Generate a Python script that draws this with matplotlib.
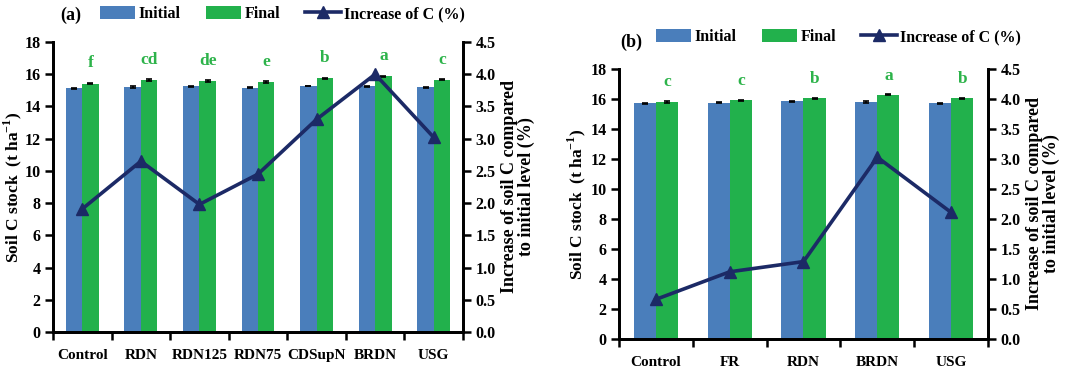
import numpy as np
import matplotlib.pyplot as plt
from matplotlib.ticker import FormatStrFormatter

plt.rcParams['font.family'] = ['Liberation Serif', 'DejaVu Serif']
plt.rcParams['font.weight'] = 'bold'
plt.rcParams['mathtext.fontset'] = 'custom'
plt.rcParams['mathtext.rm'] = 'Liberation Serif'
plt.rcParams['mathtext.bf'] = 'Liberation Serif:bold'

# Panel (a) data
cats_a = ['Control', 'RDN', 'RDN125', 'RDN75', 'CDSupN', 'BRDN', 'USG']
initial_a = [15.12, 15.22, 15.25, 15.17, 15.27, 15.25, 15.2]
final_a = [15.42, 15.65, 15.57, 15.52, 15.75, 15.86, 15.66]
init_err_a = [0.03, 0.05, 0.04, 0.03, 0.03, 0.04, 0.03]
final_err_a = [0.05, 0.04, 0.06, 0.05, 0.04, 0.04, 0.04]
increase_a = [1.91, 2.65, 1.98, 2.45, 3.30, 4.00, 3.02]
letters_a = ['f', 'cd', 'de', 'e', 'b', 'a', 'c']

# Panel (b) data
cats_b = ['Control', 'FR', 'RDN', 'BRDN', 'USG']
initial_b = [15.72, 15.75, 15.86, 15.8, 15.72]
final_b = [15.83, 15.92, 16.04, 16.28, 16.04]
init_err_b = [0.04, 0.04, 0.04, 0.04, 0.04]
final_err_b = [0.07, 0.04, 0.04, 0.04, 0.04]
increase_b = [0.66, 1.12, 1.29, 3.03, 2.11]
letters_b = ['c', 'c', 'b', 'a', 'b']

c_init = '#4A7EBB'
c_final = '#22B14C'
c_line = '#1C2A66'
c_letter = '#2DB34A'

W, H = 1071, 372
fig = plt.figure(figsize=(W / 100, H / 100), dpi=100)


def panel(rect, cats, initial, final, ierr, ferr, increase, letters, bw, tag, tag_xy, leg_xy, lab_x):
    l, t, r, b = rect
    ax = fig.add_axes([l / W, (H - b) / H, (r - l) / W, (b - t) / H])
    x = np.arange(len(cats))
    ax.bar(x - bw / 2, initial, bw, color=c_init, yerr=ierr, capsize=2.5,
           error_kw=dict(elinewidth=1.2, capthick=1.2, ecolor='black'), label='Initial', zorder=2)
    ax.bar(x + bw / 2, final, bw, color=c_final, yerr=ferr, capsize=2.5,
           error_kw=dict(elinewidth=1.2, capthick=1.2, ecolor='black'), label='Final', zorder=2)
    for xi, f, s in zip(x, final, letters):
        ax.text(xi + bw / 2, f + 0.75, s, color=c_letter, ha='center', va='bottom',
                fontsize=12.5, fontweight='bold')
    ax.set_ylim(0, 18)
    ax.set_yticks(np.arange(0, 19, 2))
    ax.set_xlim(-0.5, len(cats) - 0.5)
    ax.set_xticks(np.arange(-0.5, len(cats), 1))
    ax.set_xticklabels([])
    ax.set_xticks(x, minor=True)
    ax.set_xticklabels(cats, minor=True, fontsize=11, fontweight='bold')
    ax.tick_params(axis='x', which='minor', length=0, pad=12)
    ax.tick_params(axis='x', which='major', length=6, width=1.8, direction='out')
    ax.tick_params(axis='y', length=6, width=1.8, labelsize=11.5, pad=3)
    for lab in ax.get_yticklabels():
        lab.set_fontweight('bold')
    ax.spines['top'].set_visible(False)
    for s in ['left', 'right', 'bottom']:
        ax.spines[s].set_linewidth(2)
    ax.set_ylabel('Soil C stock  (t ha$^{\\mathbf{-1}}$)', fontsize=12.5, fontweight='bold')
    ax.yaxis.set_label_coords((lab_x - l) / (r - l), 0.5)

    ax2 = ax.twinx()
    ax2.plot(x, increase, color=c_line, lw=2.6, marker='^', markersize=8,
             label='Increase of C (%)', zorder=3)
    ax2.set_ylim(0, 4.5)
    ax2.set_yticks(np.arange(0, 4.51, 0.5))
    ax2.yaxis.set_major_formatter(FormatStrFormatter('%.1f'))
    ax2.tick_params(axis='y', length=6, width=1.8, labelsize=11.5, pad=3)
    for lab in ax2.get_yticklabels():
        lab.set_fontweight('bold')
    ax2.spines['top'].set_visible(False)
    for s in ['left', 'right', 'bottom']:
        ax2.spines[s].set_linewidth(2)
    ax2.set_ylabel('Increase of soil C compared\nto initial level (%)', fontsize=13,
                   fontweight='bold', linespacing=0.95, labelpad=4)

    h1, l1 = ax.get_legend_handles_labels()
    h2, l2 = ax2.get_legend_handles_labels()
    fig.legend(h1 + h2, l1 + l2, loc='center left',
               bbox_to_anchor=(leg_xy[0] / W, (H - leg_xy[1]) / H), ncol=3, frameon=False,
               fontsize=11.5, handlelength=2.2, handleheight=0.8, columnspacing=1.6,
               handletextpad=0.2, borderaxespad=0, borderpad=0)
    fig.text(tag_xy[0] / W, (H - tag_xy[1]) / H, tag, fontsize=13, fontweight='bold',
             ha='left', va='center')


panel((53, 42, 463, 332), cats_a, initial_a, final_a, init_err_a, final_err_a,
      increase_a, letters_a, 0.28, '(a)', (60, 15), (100, 14), 24)
panel((619, 69, 988, 339), cats_b, initial_b, final_b, init_err_b, final_err_b,
      increase_b, letters_b, 0.30, '(b)', (620, 42), (656, 37), 588)

fig.savefig('out.png', dpi=100)
